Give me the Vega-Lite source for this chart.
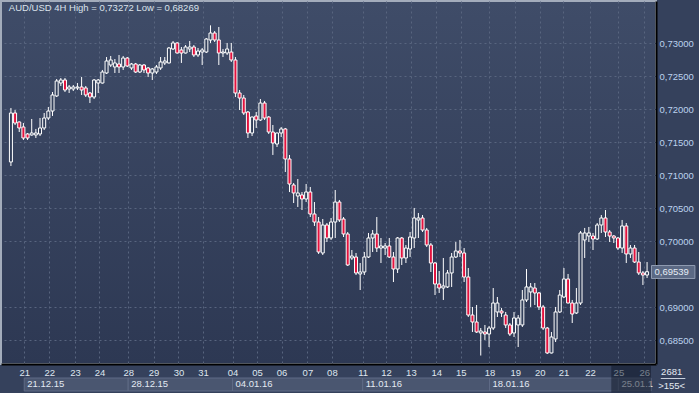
{
"$schema":"https://vega.github.io/schema/vega-lite/v6.json",
"width":655,"height":363,
"autosize":{"type":"none"},
"padding":{"left":1,"top":1,"right":43,"bottom":29},
"background":"#35415c",
"view":{"fill":{"gradient":"linear","x1":0,"y1":0,"x2":0,"y2":1,"stops":[{"offset":0,"color":"#3f4c68"},{"offset":1,"color":"#2d3853"}]},"stroke":"#a3acbb","strokeWidth":2},
"config":{"axis":{"labelFont":"Liberation Sans","labelFontSize":9.5,"ticks":false,"tickSize":0,"domainColor":"#000000","domainWidth":2,"gridColor":"#58657f","gridDash":[2,3],"gridWidth":1,"labelOverlap":false,"labelFlush":false,"labelBound":false,"title":null}},
"data":{"values":[
{"i":0,"o":0.71202,"h":0.72020,"l":0.71141,"c":0.71944},
{"i":1,"o":0.71944,"h":0.71989,"l":0.71762,"c":0.71792},
{"i":2,"o":0.71808,"h":0.71815,"l":0.71656,"c":0.71717},
{"i":3,"o":0.71732,"h":0.71792,"l":0.71535,"c":0.71565},
{"i":4,"o":0.71626,"h":0.71641,"l":0.71535,"c":0.71565},
{"i":5,"o":0.71611,"h":0.71853,"l":0.71600,"c":0.71641},
{"i":6,"o":0.71611,"h":0.71702,"l":0.71565,"c":0.71641},
{"i":7,"o":0.71626,"h":0.71868,"l":0.71595,"c":0.71717},
{"i":8,"o":0.71717,"h":0.71944,"l":0.71686,"c":0.71868},
{"i":9,"o":0.71868,"h":0.72035,"l":0.71838,"c":0.71974},
{"i":10,"o":0.71974,"h":0.72262,"l":0.71899,"c":0.72217},
{"i":11,"o":0.72202,"h":0.72459,"l":0.72186,"c":0.72429},
{"i":12,"o":0.72398,"h":0.72474,"l":0.72353,"c":0.72444},
{"i":13,"o":0.72444,"h":0.72474,"l":0.72262,"c":0.72292},
{"i":14,"o":0.72308,"h":0.72368,"l":0.72247,"c":0.72338},
{"i":15,"o":0.72308,"h":0.72368,"l":0.72277,"c":0.72338},
{"i":16,"o":0.72323,"h":0.72398,"l":0.72292,"c":0.72338},
{"i":17,"o":0.72338,"h":0.72489,"l":0.72217,"c":0.72292},
{"i":18,"o":0.72323,"h":0.72353,"l":0.72186,"c":0.72217},
{"i":19,"o":0.72247,"h":0.72262,"l":0.72095,"c":0.72186},
{"i":20,"o":0.72186,"h":0.72459,"l":0.72156,"c":0.72444},
{"i":21,"o":0.72398,"h":0.72459,"l":0.72247,"c":0.72444},
{"i":22,"o":0.72398,"h":0.72596,"l":0.72390,"c":0.72565},
{"i":23,"o":0.72550,"h":0.72792,"l":0.72535,"c":0.72732},
{"i":24,"o":0.72671,"h":0.72808,"l":0.72641,"c":0.72747},
{"i":25,"o":0.72641,"h":0.72762,"l":0.72550,"c":0.72702},
{"i":26,"o":0.72686,"h":0.72823,"l":0.72550,"c":0.72641},
{"i":27,"o":0.72641,"h":0.72808,"l":0.72596,"c":0.72777},
{"i":28,"o":0.72777,"h":0.72792,"l":0.72641,"c":0.72656},
{"i":29,"o":0.72626,"h":0.72702,"l":0.72596,"c":0.72686},
{"i":30,"o":0.72686,"h":0.72702,"l":0.72550,"c":0.72565},
{"i":31,"o":0.72565,"h":0.72686,"l":0.72550,"c":0.72671},
{"i":32,"o":0.72671,"h":0.72686,"l":0.72550,"c":0.72596},
{"i":33,"o":0.72626,"h":0.72641,"l":0.72489,"c":0.72550},
{"i":34,"o":0.72550,"h":0.72626,"l":0.72444,"c":0.72611},
{"i":35,"o":0.72565,"h":0.72671,"l":0.72535,"c":0.72641},
{"i":36,"o":0.72626,"h":0.72792,"l":0.72596,"c":0.72717},
{"i":37,"o":0.72702,"h":0.72792,"l":0.72671,"c":0.72732},
{"i":38,"o":0.72702,"h":0.72944,"l":0.72695,"c":0.72929},
{"i":39,"o":0.72914,"h":0.73035,"l":0.72899,"c":0.73005},
{"i":40,"o":0.73005,"h":0.73015,"l":0.72845,"c":0.72853},
{"i":41,"o":0.72899,"h":0.72944,"l":0.72702,"c":0.72853},
{"i":42,"o":0.72853,"h":0.72974,"l":0.72845,"c":0.72944},
{"i":43,"o":0.72914,"h":0.73035,"l":0.72868,"c":0.72944},
{"i":44,"o":0.72944,"h":0.72974,"l":0.72792,"c":0.72823},
{"i":45,"o":0.72823,"h":0.72929,"l":0.72792,"c":0.72883},
{"i":46,"o":0.72868,"h":0.72929,"l":0.72671,"c":0.72899},
{"i":47,"o":0.72868,"h":0.73080,"l":0.72853,"c":0.73065},
{"i":48,"o":0.73050,"h":0.73272,"l":0.73005,"c":0.73156},
{"i":49,"o":0.73156,"h":0.73186,"l":0.73020,"c":0.73050},
{"i":50,"o":0.73050,"h":0.73247,"l":0.72671,"c":0.72853},
{"i":51,"o":0.72853,"h":0.72914,"l":0.72792,"c":0.72868},
{"i":52,"o":0.72853,"h":0.73005,"l":0.72823,"c":0.72914},
{"i":53,"o":0.72868,"h":0.73005,"l":0.72717,"c":0.72747},
{"i":54,"o":0.72747,"h":0.72792,"l":0.72186,"c":0.72247},
{"i":55,"o":0.72247,"h":0.72292,"l":0.71989,"c":0.72171},
{"i":56,"o":0.72171,"h":0.72217,"l":0.71914,"c":0.71944},
{"i":57,"o":0.71959,"h":0.71974,"l":0.71565,"c":0.71641},
{"i":58,"o":0.71641,"h":0.71890,"l":0.71595,"c":0.71883},
{"i":59,"o":0.71898,"h":0.71959,"l":0.71717,"c":0.71838},
{"i":60,"o":0.71838,"h":0.72156,"l":0.71823,"c":0.72095},
{"i":61,"o":0.72095,"h":0.72126,"l":0.71838,"c":0.71868},
{"i":62,"o":0.71883,"h":0.71898,"l":0.71626,"c":0.71656},
{"i":63,"o":0.71656,"h":0.71762,"l":0.71308,"c":0.71489},
{"i":64,"o":0.71474,"h":0.71645,"l":0.71429,"c":0.71641},
{"i":65,"o":0.71641,"h":0.71732,"l":0.71580,"c":0.71702},
{"i":66,"o":0.71702,"h":0.71717,"l":0.71050,"c":0.71247},
{"i":67,"o":0.71247,"h":0.71308,"l":0.70746,"c":0.70868},
{"i":68,"o":0.70853,"h":0.70883,"l":0.70580,"c":0.70732},
{"i":69,"o":0.70686,"h":0.70944,"l":0.70520,"c":0.70732},
{"i":70,"o":0.70702,"h":0.70747,"l":0.70474,"c":0.70641},
{"i":71,"o":0.70641,"h":0.70868,"l":0.70595,"c":0.70747},
{"i":72,"o":0.70747,"h":0.70823,"l":0.70368,"c":0.70414},
{"i":73,"o":0.70414,"h":0.70595,"l":0.70232,"c":0.70292},
{"i":74,"o":0.70292,"h":0.70368,"l":0.69808,"c":0.69838},
{"i":75,"o":0.69823,"h":0.70338,"l":0.69792,"c":0.70247},
{"i":76,"o":0.70247,"h":0.70277,"l":0.69989,"c":0.70050},
{"i":77,"o":0.70050,"h":0.70353,"l":0.70020,"c":0.70292},
{"i":78,"o":0.70292,"h":0.70777,"l":0.70050,"c":0.70595},
{"i":79,"o":0.70595,"h":0.70626,"l":0.70292,"c":0.70323},
{"i":80,"o":0.70338,"h":0.70368,"l":0.70065,"c":0.70111},
{"i":81,"o":0.70111,"h":0.70141,"l":0.69626,"c":0.69641},
{"i":82,"o":0.69747,"h":0.69868,"l":0.69717,"c":0.69777},
{"i":83,"o":0.69762,"h":0.69823,"l":0.69489,"c":0.69520},
{"i":84,"o":0.69505,"h":0.69671,"l":0.69262,"c":0.69535},
{"i":85,"o":0.69535,"h":0.69838,"l":0.69489,"c":0.69762},
{"i":86,"o":0.69762,"h":0.70126,"l":0.69747,"c":0.70050},
{"i":87,"o":0.70050,"h":0.70171,"l":0.69838,"c":0.70111},
{"i":88,"o":0.70111,"h":0.70368,"l":0.69838,"c":0.69898},
{"i":89,"o":0.69898,"h":0.70050,"l":0.69671,"c":0.69929},
{"i":90,"o":0.69898,"h":0.69974,"l":0.69792,"c":0.69929},
{"i":91,"o":0.69929,"h":0.70050,"l":0.69747,"c":0.69762},
{"i":92,"o":0.69762,"h":0.69838,"l":0.69383,"c":0.69580},
{"i":93,"o":0.69580,"h":0.70065,"l":0.69520,"c":0.70050},
{"i":94,"o":0.70050,"h":0.70065,"l":0.69641,"c":0.69747},
{"i":95,"o":0.69747,"h":0.69944,"l":0.69671,"c":0.69898},
{"i":96,"o":0.69883,"h":0.70141,"l":0.69762,"c":0.70065},
{"i":97,"o":0.70050,"h":0.70505,"l":0.69898,"c":0.70353},
{"i":98,"o":0.70323,"h":0.70429,"l":0.70050,"c":0.70353},
{"i":99,"o":0.70353,"h":0.70398,"l":0.70141,"c":0.70171},
{"i":100,"o":0.70171,"h":0.70202,"l":0.69914,"c":0.69944},
{"i":101,"o":0.69944,"h":0.69974,"l":0.69535,"c":0.69671},
{"i":102,"o":0.69671,"h":0.69686,"l":0.69186,"c":0.69353},
{"i":103,"o":0.69353,"h":0.69550,"l":0.69217,"c":0.69292},
{"i":104,"o":0.69292,"h":0.69747,"l":0.69111,"c":0.69323},
{"i":105,"o":0.69308,"h":0.69565,"l":0.69292,"c":0.69520},
{"i":106,"o":0.69520,"h":0.69823,"l":0.69308,"c":0.69762},
{"i":107,"o":0.69762,"h":0.69989,"l":0.69747,"c":0.69853},
{"i":108,"o":0.69853,"h":0.70020,"l":0.69762,"c":0.69823},
{"i":109,"o":0.69823,"h":0.69898,"l":0.69383,"c":0.69459},
{"i":110,"o":0.69459,"h":0.69595,"l":0.68853,"c":0.68883},
{"i":111,"o":0.68883,"h":0.69005,"l":0.68626,"c":0.68777},
{"i":112,"o":0.68777,"h":0.69035,"l":0.68611,"c":0.68626},
{"i":113,"o":0.68611,"h":0.68686,"l":0.68269,"c":0.68641},
{"i":114,"o":0.68626,"h":0.68732,"l":0.68505,"c":0.68595},
{"i":115,"o":0.68595,"h":0.68717,"l":0.68398,"c":0.68686},
{"i":116,"o":0.68686,"h":0.69292,"l":0.68656,"c":0.69065},
{"i":117,"o":0.68929,"h":0.69156,"l":0.68853,"c":0.69065},
{"i":118,"o":0.68944,"h":0.68989,"l":0.68853,"c":0.68914},
{"i":119,"o":0.68883,"h":0.68929,"l":0.68686,"c":0.68732},
{"i":120,"o":0.68732,"h":0.68762,"l":0.68565,"c":0.68595},
{"i":121,"o":0.68611,"h":0.68929,"l":0.68550,"c":0.68838},
{"i":122,"o":0.68732,"h":0.68883,"l":0.68398,"c":0.68838},
{"i":123,"o":0.68732,"h":0.69262,"l":0.68702,"c":0.69111},
{"i":124,"o":0.69111,"h":0.69580,"l":0.69080,"c":0.69308},
{"i":125,"o":0.69232,"h":0.69368,"l":0.69005,"c":0.69308},
{"i":126,"o":0.69292,"h":0.69368,"l":0.69035,"c":0.69217},
{"i":127,"o":0.69217,"h":0.69232,"l":0.68959,"c":0.69005},
{"i":128,"o":0.69005,"h":0.69035,"l":0.68656,"c":0.68686},
{"i":129,"o":0.68686,"h":0.68702,"l":0.68292,"c":0.68308},
{"i":130,"o":0.68308,"h":0.68626,"l":0.68300,"c":0.68550},
{"i":131,"o":0.68520,"h":0.69005,"l":0.68474,"c":0.68929},
{"i":132,"o":0.68929,"h":0.69262,"l":0.68914,"c":0.69186},
{"i":133,"o":0.69156,"h":0.69595,"l":0.69141,"c":0.69429},
{"i":134,"o":0.69429,"h":0.69505,"l":0.69060,"c":0.69065},
{"i":135,"o":0.69065,"h":0.69111,"l":0.68762,"c":0.68898},
{"i":136,"o":0.68914,"h":0.69292,"l":0.68898,"c":0.69065},
{"i":137,"o":0.69065,"h":0.70156,"l":0.69035,"c":0.70126},
{"i":138,"o":0.70020,"h":0.70202,"l":0.69747,"c":0.70126},
{"i":139,"o":0.70080,"h":0.70217,"l":0.69989,"c":0.70126},
{"i":140,"o":0.70080,"h":0.70126,"l":0.69868,"c":0.70035},
{"i":141,"o":0.70035,"h":0.70277,"l":0.70020,"c":0.70247},
{"i":142,"o":0.70247,"h":0.70398,"l":0.70126,"c":0.70353},
{"i":143,"o":0.70353,"h":0.70474,"l":0.70065,"c":0.70141},
{"i":144,"o":0.70141,"h":0.70171,"l":0.69989,"c":0.70080},
{"i":145,"o":0.70080,"h":0.70095,"l":0.69974,"c":0.70050},
{"i":146,"o":0.70050,"h":0.70065,"l":0.69868,"c":0.69898},
{"i":147,"o":0.69898,"h":0.70323,"l":0.69823,"c":0.70232},
{"i":148,"o":0.70232,"h":0.70277,"l":0.69671,"c":0.69808},
{"i":149,"o":0.69808,"h":0.69944,"l":0.69747,"c":0.69898},
{"i":150,"o":0.69898,"h":0.69944,"l":0.69671,"c":0.69686},
{"i":151,"o":0.69686,"h":0.69838,"l":0.69489,"c":0.69520},
{"i":152,"o":0.69520,"h":0.69550,"l":0.69338,"c":0.69489},
{"i":153,"o":0.69489,"h":0.69686,"l":0.69444,"c":0.69539}
]},
"encoding":{
  "x":{"type":"quantitative","scale":{"domain":[-1.1842,153.946],"nice":false,"zero":false},
   "axis":{"orient":"bottom","title":null,"grid":true,"labelAngle":0,"labelColor":"#dfe6ef","labelPadding":3,"labelBaseline":"top",
    "values":[3.2,9.24,15.4,21.3,28.2,34.3,40.3,46.2,53.3,59.2,65.1,71.3,77.2,84.6,90.2,96.2,102.3,108.2,115.1,121.3,127.2,132.9,139.3,146.1,152.3],
    "labelExpr":"['21','22','23','24','28','29','30','31','04','05','06','07','08','11','12','13','14','15','18','19','20','21','22','25','26'][indexof([3.2,9.24,15.4,21.3,28.2,34.3,40.3,46.2,53.3,59.2,65.1,71.3,77.2,84.6,90.2,96.2,102.3,108.2,115.1,121.3,127.2,132.9,139.3,146.1,152.3], datum.value)]"}},
  "y":{"type":"quantitative","scale":{"domain":[0.681408,0.736409],"nice":false,"zero":false},
   "axis":{"orient":"right","title":null,"grid":true,"labelColor":"#bcd2ee","labelPadding":3,"labelBaseline":"middle",
    "values":[0.685,0.69,0.7,0.705,0.71,0.715,0.72,0.725,0.73],
    "labelExpr":"replace(format(datum.value,'.5f'),'.',',')"}}
},
"layer":[
{"mark":{"type":"rule","color":"#ffffff","strokeWidth":1},
 "encoding":{"x":{"field":"i"},"y":{"field":"h"},"y2":{"field":"l"}}},
{"mark":{"type":"bar","orient":"vertical","size":3,"stroke":"#ffffff","strokeWidth":1},
 "encoding":{"x":{"field":"i"},"y":{"field":"o"},"y2":{"field":"c"},
  "fill":{"condition":{"test":"datum.c < datum.o","value":"#e3123e"},"value":"#33405b"}}},
{"data":{"values":[{"t":"AUD/USD 4H High = 0,73272 Low = 0,68269"}]},
 "mark":{"type":"text","align":"left","baseline":"alphabetic","font":"Liberation Sans","fontSize":9.5,"color":"#dce3ec"},
 "encoding":{"text":{"field":"t","type":"nominal"},"x":{"datum":-0.5},"y":{"datum":0.734819}}},
{"data":{"values":[{"w":"21.12.15","s":3.2,"e":28.2},{"w":"28.12.15","s":28.2,"e":53.3},{"w":"04.01.16","s":53.3,"e":84.6},{"w":"11.01.16","s":84.6,"e":115.1},{"w":"18.01.16","s":115.1,"e":146.1},{"w":"25.01.1","s":146.1,"e":153.946}]},
 "layer":[
  {"mark":{"type":"rect","fill":"#4a5670","stroke":"#5f6b86","strokeWidth":1},
   "encoding":{"x":{"field":"s"},"x2":{"field":"e"},"y":{"datum":0.679286},"y2":{"datum":0.677317}}},
  {"mark":{"type":"text","align":"left","baseline":"middle","dx":3,"font":"Liberation Sans","fontSize":9.5,"color":"#e2e9f2"},
   "encoding":{"text":{"field":"w","type":"nominal"},"x":{"field":"s"},"y":{"datum":0.678377}}}
 ]},
{"data":{"values":[{}]},
 "mark":{"type":"rect","fill":"#0e1526","opacity":0.5},
 "encoding":{"x":{"datum":144.4},"x2":{"datum":153.946},"y":{"datum":0.681332},"y2":{"datum":0.67709}}},
{"data":{"values":[{"p":0.69539,"lbl":"0,69539"}]},
 "layer":[
  {"mark":{"type":"rect","fill":"#5b6984","stroke":"#8e9ab0","strokeWidth":1},
   "encoding":{"x":{"datum":154.07},"x2":{"datum":164.5},"y":{"datum":0.696332},"y2":{"datum":0.694363}}},
  {"mark":{"type":"text","align":"left","baseline":"middle","font":"Liberation Sans","fontSize":9.5,"color":"#e6edf6"},
   "encoding":{"text":{"field":"lbl","type":"nominal"},"x":{"datum":154.78},"y":{"field":"p"}}}
 ]},
{"data":{"values":[{"t":"2681","v":0.680271},{"t":">155<","v":0.67815}]},
 "mark":{"type":"text","align":"center","baseline":"middle","font":"Liberation Sans","fontSize":9.5,"color":"#e4eaf2"},
 "encoding":{"text":{"field":"t","type":"nominal"},"x":{"datum":158.92},"y":{"field":"v"}}},
{"data":{"values":[{}]},
 "mark":{"type":"rule","color":"#c8d0dc","strokeWidth":1},
 "encoding":{"x":{"datum":156.3},"x2":{"datum":162.2},"y":{"datum":0.67921}}}
]
}
